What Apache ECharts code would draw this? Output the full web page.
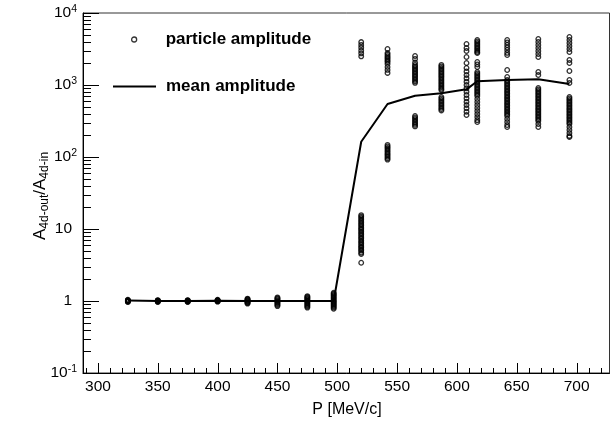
<!DOCTYPE html>
<html><head><meta charset="utf-8">
<script src="https://cdn.jsdelivr.net/npm/echarts@6/dist/echarts.min.js"></script>
<style>html,body{margin:0;padding:0;background:#fff}#c{width:613px;height:421px}</style>
</head><body><div id="c"></div>
<script>
// ---- data ----
const momenta = [325, 350, 375, 400, 425, 450, 475, 497, 520, 542, 565, 587, 608, 617, 642, 668, 694];
const amp325 = [1.04, 1.03, 1.02, 1.01, 1.0, 0.99, 0.98, 0.97];
const amp350 = [1.03, 1.02, 1.01, 1.0, 0.99, 0.98, 0.97];
const amp375 = [1.03, 1.02, 1.01, 1.0, 0.99, 0.98, 0.97];
const amp400 = [1.04, 1.03, 1.02, 1.01, 1.0, 0.99, 0.98];
const amp425 = [1.08, 1.06, 1.04, 1.02, 1.0, 0.98, 0.96, 0.94, 0.92];
const amp450 = [1.12, 1.09, 1.06, 1.03, 1.0, 0.97, 0.94, 0.91, 0.88, 0.85];
const amp475 = [1.17, 1.14, 1.11, 1.08, 1.05, 1.02, 0.99, 0.96, 0.93, 0.9, 0.87, 0.84, 0.81];
const amp497 = [1.3, 1.26, 1.22, 1.18, 1.14, 1.1, 1.06, 1.02, 0.99, 0.96, 0.93, 0.9, 0.87, 0.84, 0.81, 0.78];
const amp520 = [3950, 3600, 3300, 3000, 2750, 2500,
  15.6, 14.9, 14.2, 13.5, 12.9, 12.3, 11.7, 11.2, 10.6, 10.1, 9.7, 9.2, 8.8, 8.4, 8.0, 7.6, 7.3, 6.9, 6.6, 6.3, 6.0, 5.7, 5.5, 5.2, 5.0, 4.7, 4.5, 3.4];
const amp542 = [3160, 2780, 2650, 2510, 2400, 2290, 2190, 2090, 1960, 1780, 1620, 1470,
  147, 140, 134, 128, 122, 116, 111, 106, 101, 96, 92];
const amp565 = [2530, 2300, 2050, 1900, 1811, 1727, 1646, 1570, 1496, 1427, 1360, 1297, 1236, 1179, 1124, 1071,
  371, 354, 337, 321, 306, 292, 279, 266];
const amp587 = [1900, 1811, 1727, 1646, 1570, 1496, 1427, 1360, 1297, 1236, 1179, 1124, 1071, 1021, 974, 928, 885, 850,
  681, 650, 619, 590, 562, 536, 511, 487, 464, 443];
const amp608 = [3710, 3265, 2965, 2449, 2021, 1722, 1541, 1377, 1239, 1112, 1000, 900, 808, 726, 653, 586, 527, 475, 426, 383];
const amp617 = [4217, 4020, 3830, 3650, 3480, 3318, 3160, 3010, 2870, 2783, 2085, 1928, 1778,
  1517, 1446, 1377, 1313, 1250, 1192, 1136, 1083, 1032, 984, 938, 894, 853, 813, 774, 738, 703,
  639, 581, 527, 479, 435, 395, 359, 326, 306];
const amp642 = [4217, 3890, 3594, 3318, 3062, 2800, 2610, 1615, 1292,
  1173, 1118, 1066, 1016, 969, 924, 880, 839, 800, 763, 726, 693, 660, 630, 600, 572, 545, 520, 495, 472, 450, 429, 408, 389, 371,
  337, 306, 278, 261];
const amp668 = [4355, 3958, 3594, 3265, 2965, 2697, 2449, 1517, 1377,
  908, 866, 826, 787, 750, 715, 681, 650, 619, 590, 562, 536, 511, 487, 464, 443, 422, 402, 383, 365, 348, 332, 316,
  287, 261];
const amp694 = [4642, 4217, 3831, 3481, 3162, 2873, 2224, 2021, 1565, 1173, 1066,
  681, 650, 619, 590, 562, 536, 511, 487, 464, 443, 422, 402, 383, 365, 348, 332, 316, 301, 287,
  261, 237, 215, 196, 190];
const particleAmps = [amp325, amp350, amp375, amp400, amp425, amp450, amp475, amp497, amp520, amp542, amp565, amp587, amp608, amp617, amp642, amp668, amp694];

const meanP = [325, 350, 375, 400, 425, 450, 475, 497, 520, 542, 565, 587, 608, 617, 642, 668, 694];
const meanAmp = [1.02, 1.0, 1.0, 1.01, 1.0, 1.0, 1.0, 1.0, 163, 545, 710, 770, 870, 1125, 1170, 1200, 1030];

const xTickValues = [300, 350, 400, 450, 500, 550, 600, 650, 700];
const xMinorTickValues = [290, 310, 320, 330, 340, 360, 370, 380, 390, 410, 420, 430, 440, 460, 470, 480, 490, 510, 520, 530, 540, 560, 570, 580, 590, 610, 620, 630, 640, 660, 670, 680, 690, 710, 720];
const yTickValues = [0.1, 1, 10, 100, 1000, 10000];
const yTickLabels = ['{b|10}{s|-1}', '{p|1}', '{p|10}', '{b|10}{s|2}', '{b|10}{s|3}', '{b|10}{s|4}'];
const yMinorTickValues = [0.2, 0.3, 0.4, 0.5, 0.6, 0.7, 0.8, 0.9, 2, 3, 4, 5, 6, 7, 8, 9, 20, 30, 40, 50, 60, 70, 80, 90, 200, 300, 400, 500, 600, 700, 800, 900, 2000, 3000, 4000, 5000, 6000, 7000, 8000, 9000];

// ---- chart ----
const FONT = '"Liberation Sans", Arial, Helvetica, sans-serif';
const X_MIN = 287.5, X_MAX = 727.5, Y_MIN = 0.1, Y_MAX = 10000;
const scatterData = [];
momenta.forEach((p, i) => particleAmps[i].forEach(a => scatterData.push([p, a])));
const meanData = meanP.map((p, i) => [p, meanAmp[i]]);

const chart = echarts.init(document.getElementById('c'), null, {renderer: 'canvas'});
const textGraphics = [
  {type: 'text', x: 347, y: 410, style: {text: 'P [MeV/c]', fontSize: 16, fontFamily: FONT, fill: '#000', align: 'center', verticalAlign: 'middle'}},
  {type: 'text', x: 40, y: 196, rotation: Math.PI / 2,
   style: {text: '{m|A}{s|4d-out}{m|/A}{s|4d-in}', align: 'center', verticalAlign: 'middle', fill: '#000',
     rich: {m: {fontSize: 17, lineHeight: 21, fontFamily: FONT, fill: '#000'},
            s: {fontSize: 12, lineHeight: 13, verticalAlign: 'bottom', fontFamily: FONT, fill: '#000'}}}}
];
chart.setOption({
  animation: false,
  backgroundColor: '#fff',
  textStyle: {fontFamily: FONT},
  grid: {left: 83, right: 3.5, top: 13, bottom: 48, show: true, borderColor: '#333', borderWidth: 1, backgroundColor: 'transparent'},
  xAxis: {
    type: 'value', min: X_MIN, max: X_MAX, splitLine: {show: false},
    axisLine: {show: true, lineStyle: {color: '#000', width: 1}},
    axisTick: {show: false},
    axisLabel: {show: true, customValues: xTickValues, margin: 6, fontSize: 15.5, color: '#000', fontFamily: FONT}
  },
  yAxis: {
    type: 'log', logBase: 10, min: Y_MIN, max: Y_MAX, splitLine: {show: false},
    axisLine: {show: true, lineStyle: {color: '#000', width: 1}},
    axisTick: {show: false},
    axisLabel: {
      show: true, margin: 6, color: '#000',
      formatter: (v) => {
        const idx = yTickValues.findIndex(t => Math.abs(Math.log10(t) - Math.log10(v)) < 1e-6);
        return idx >= 0 ? yTickLabels[idx] : '';
      },
      rich: {
        b: {fontSize: 15.5, lineHeight: 18, color: '#000', fontFamily: FONT},
        s: {fontSize: 10.5, lineHeight: 11, verticalAlign: 'top', color: '#000', fontFamily: FONT},
        p: {fontSize: 15.5, lineHeight: 18, color: '#000', fontFamily: FONT, padding: [0, 5, 0, 0]}
      }
    }
  },
  legend: [
    {data: ['particle amplitude'], left: 131, top: 31, padding: 0, itemWidth: 43, itemHeight: 5, icon: 'circle', selectedMode: false,
     itemStyle: {color: 'rgba(0,0,0,0)', borderColor: '#000', borderWidth: 1.3},
     textStyle: {fontSize: 17, fontWeight: 'bold', color: '#000', fontFamily: FONT, padding: [0, 0, 0, 5]}},
    {data: ['mean amplitude'], left: 113, top: 78, padding: 0, itemWidth: 43, itemHeight: 2, icon: 'rect', selectedMode: false,
     itemStyle: {color: '#000', borderWidth: 0},
     textStyle: {fontSize: 17, fontWeight: 'bold', color: '#000', fontFamily: FONT, padding: [0, 0, 0, 5]}}
  ],
  series: [
    {name: 'mean amplitude', type: 'line', data: meanData, symbol: 'none', showSymbol: false,
     lineStyle: {color: '#000', width: 2}, itemStyle: {color: '#000'}, z: 2, silent: true},
    {name: 'particle amplitude', type: 'scatter', data: scatterData, symbol: 'circle', symbolSize: 4.6,
     itemStyle: {color: 'rgba(0,0,0,0)', borderColor: '#000', borderWidth: 1.3}, z: 3, silent: true}
  ],
  graphic: textGraphics
});

// axis ticks (inside, ROOT style), positioned through the axes' own scales
const left = chart.convertToPixel({xAxisIndex: 0}, X_MIN);
const bottom = chart.convertToPixel({yAxisIndex: 0}, Y_MIN);
const tickGraphics = [];
const tick = (x1, y1, x2, y2) => tickGraphics.push({type: 'line', silent: true, shape: {x1, y1, x2, y2}, style: {stroke: '#000', lineWidth: 1}});
xTickValues.forEach(v => { const x = Math.round(chart.convertToPixel({xAxisIndex: 0}, v)) + 0.5; tick(x, bottom, x, bottom - 10); });
xMinorTickValues.forEach(v => { const x = Math.round(chart.convertToPixel({xAxisIndex: 0}, v)) + 0.5; tick(x, bottom, x, bottom - 5); });
yTickValues.forEach(v => { const y = Math.round(chart.convertToPixel({yAxisIndex: 0}, v)) + 0.5; tick(left, y, left + 16, y); });
yMinorTickValues.forEach(v => { const y = Math.round(chart.convertToPixel({yAxisIndex: 0}, v)) + 0.5; tick(left, y, left + 8, y); });
chart.setOption({graphic: textGraphics.concat(tickGraphics)}, {replaceMerge: ['graphic']});
</script></body></html>
